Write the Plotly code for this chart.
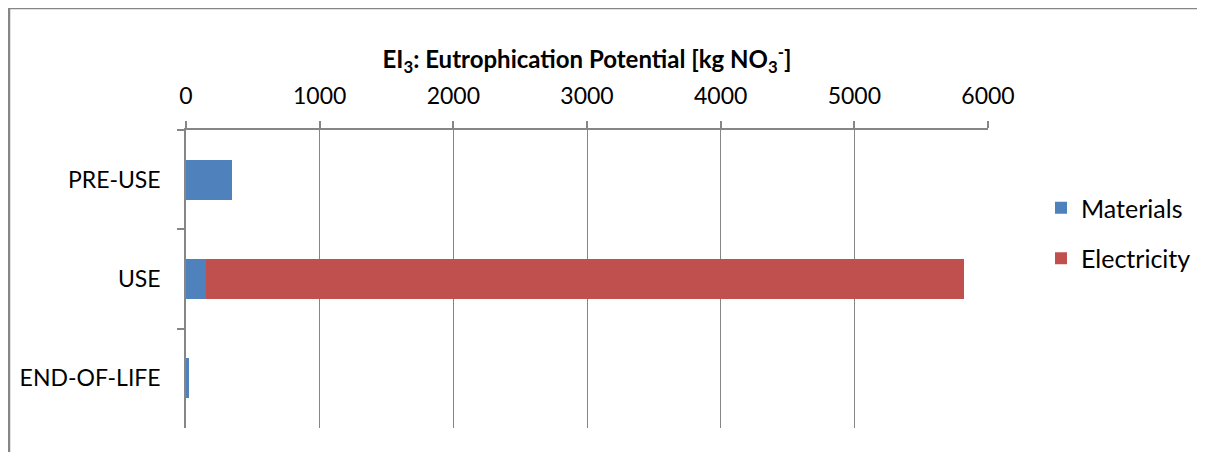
import plotly.graph_objects as go

categories = ["PRE-USE", "USE", "END-OF-LIFE"]
materials = [342, 152, 25]
electricity = [0, 5665, 0]
x_ticks = [0, 1000, 2000, 3000, 4000, 5000, 6000]

# page body has an 8px margin, so the figure is drawn offset by (8, 8)
OFF = 8
W, H = 1205 - OFF, 452 - OFF
ML, MR, MT, MB = 186 - OFF, 217, 130 - OFF, 24
GRAY = "#868686"
FONT = "Lato"

fig = go.Figure()
fig.add_trace(go.Bar(y=categories, x=materials, name="Materials", orientation="h",
                     marker=dict(color="#4F81BD", line=dict(width=0)), legendgroup="a"))
fig.add_trace(go.Bar(y=categories, x=electricity, name="Electricity", orientation="h",
                     marker=dict(color="#C0504D", line=dict(width=0)), legendgroup="b"))

pw = W - ML - MR
ph = H - MT - MB
def px2x(p):
    return (p - OFF - ML) / pw
def py2y(p):
    return (H - MB - (p - OFF)) / ph

fig.update_layout(
    width=W, height=H,
    margin=dict(l=ML, r=MR, t=MT, b=MB, autoexpand=False),
    barmode="stack", bargap=0.6,
    plot_bgcolor="white", paper_bgcolor="white",
    font=dict(family=FONT, size=23, color="black"),
    title=dict(text="<b>EI<sub>3</sub>: Eutrophication Potential [kg NO<sub>3</sub><sup>-</sup>]</b>",
               x=0.5, xref="paper", xanchor="center",
               y=1 - (60 - OFF) / H, yref="container", yanchor="middle",
               font=dict(family=FONT, size=24, color="black")),
    xaxis=dict(side="top", range=[0, 6000], tickvals=x_ticks, ticktext=[str(v) for v in x_ticks],
               showgrid=True, gridcolor=GRAY, gridwidth=1,
               showline=True, linecolor=GRAY, linewidth=1.5,
               ticks="outside", ticklen=7, tickcolor=GRAY, tickwidth=1.5,
               zeroline=False, fixedrange=True, ticklabelstandoff=8),
    yaxis=dict(autorange="reversed", showline=True, linecolor=GRAY, linewidth=1.5,
               ticks="outside", tickson="boundaries", ticklen=7, tickcolor=GRAY, tickwidth=1.5,
               showgrid=False, zeroline=False, ticklabelstandoff=19, fixedrange=True),
    legend=dict(x=px2x(1041), xanchor="left", y=py2y(185), yanchor="top",
                font=dict(family=FONT, size=25, color="black"),
                tracegroupgap=15, traceorder="grouped", bgcolor="rgba(0,0,0,0)"),
    showlegend=True,
    shapes=[
        dict(type="line", xref="paper", yref="paper", x0=px2x(9), x1=px2x(9),
             y0=py2y(470), y1=py2y(8), line=dict(color=GRAY, width=2.5)),
        dict(type="line", xref="paper", yref="paper", x0=px2x(8), x1=px2x(1220),
             y0=py2y(8), y1=py2y(8), line=dict(color=GRAY, width=2.5)),
    ],
)

fig.write_html("out.html")
